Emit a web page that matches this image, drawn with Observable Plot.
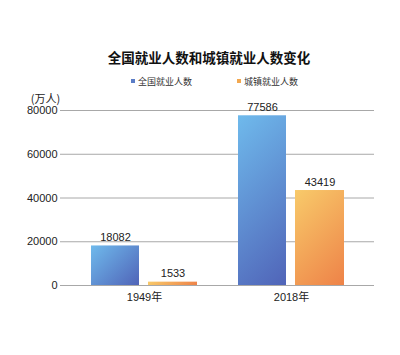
<!DOCTYPE html>
<html>
<head>
<meta charset="utf-8">
<script src="https://cdn.jsdelivr.net/npm/d3@7"></script>
<script src="https://cdn.jsdelivr.net/npm/@observablehq/plot@0.6"></script>
<style>
  html, body { margin: 0; padding: 0; background: #fff; }
  #wrap { position: relative; width: 400px; height: 355px; overflow: hidden; font-family: "Liberation Sans", "Noto Sans CJK SC", sans-serif; }
  #title { position: absolute; left: 0; width: 418px; top: 49px; text-align: center; font-family: "Noto Sans CJK SC", sans-serif; font-weight: bold; font-size: 13.5px; line-height: 16px; color: #111; }
  .leg { position: absolute; top: 75px; font-family: "Noto Sans CJK SC", sans-serif; font-size: 9px; line-height: 13px; color: #333; white-space: nowrap; }
  .leg i { display: inline-block; width: 4px; height: 4px; margin-right: 3px; vertical-align: 2px; }
  #chart { position: absolute; left: 0; top: 0; }
</style>
</head>
<body>
<div id="wrap">
  <div id="chart"></div>
  <div id="title">全国就业人数和城镇就业人数变化</div>
  <div class="leg" style="left:131px"><i style="background:#5b7dc6"></i>全国就业人数</div>
  <div class="leg" style="left:237px"><i style="background:#f2a850"></i>城镇就业人数</div>
</div>
<script>
const years = ["1949年", "2018年"];
const seriesNames = ["全国就业人数", "城镇就业人数"];
const totalValues = [18082, 77586];
const urbanValues = [1533, 43419];
const yTicks = [0, 20000, 40000, 60000, 80000];
const unitLabel = "(万人)";

const totalData = years.map((y, i) => ({year: y, series: seriesNames[0], value: totalValues[i]}));
const urbanData = years.map((y, i) => ({year: y, series: seriesNames[1], value: urbanValues[i]}));

const plot = Plot.plot({
  width: 400,
  height: 355,
  marginTop: 110,
  marginBottom: 70,
  marginLeft: 60,
  marginRight: 26,
  style: {fontFamily: "'Liberation Sans', 'Noto Sans CJK SC', sans-serif", fontSize: "11px", color: "#222", background: "transparent"},
  x: {domain: years, paddingInner: 0.279, paddingOuter: 0.2075, label: null, tickSize: 0, tickPadding: 8},
  y: {domain: [0, 80000], ticks: yTicks, label: null, tickSize: 0, tickPadding: 3, tickFormat: d => String(d)},
  marks: [
    Plot.gridY(yTicks, {stroke: "#a8a8a8", strokeOpacity: 1, strokeWidth: 1}),
    Plot.barY(totalData, {x: "year", y: "value", fill: "url(#gradBlue)", insetRight: 58, insetLeft: 0, className: "bar-blue"}),
    Plot.barY(urbanData, {x: "year", y: "value", fill: "url(#gradOrange)", insetLeft: 57, insetRight: 0, className: "bar-orange"}),
    Plot.ruleY([0], {stroke: "#a8a8a8"}),
    Plot.text(totalData, {x: "year", y: "value", text: d => String(d.value), dx: -29, dy: -5, lineAnchor: "bottom", fill: "#222", fontSize: 11}),
    Plot.text(urbanData, {x: "year", y: "value", text: d => String(d.value), dx: 28.5, dy: -5, lineAnchor: "bottom", fill: "#222", fontSize: 11}),
    Plot.text([unitLabel], {frameAnchor: "top-left", text: d => d, dx: -15, dy: -8, lineAnchor: "bottom", textAnchor: "middle", fill: "#222", fontSize: 11, fontFamily: "'Noto Sans CJK SC', sans-serif"})
  ]
});

const svg = d3.select(plot);
const defs = svg.insert("defs", ":first-child");
function grad(id, c1, c2, x1, y1, x2, y2) {
  const g = defs.append("linearGradient").attr("id", id)
    .attr("gradientUnits", "userSpaceOnUse")
    .attr("x1", x1).attr("y1", y1).attr("x2", x2).attr("y2", y2);
  g.append("stop").attr("offset", "0%").attr("stop-color", c1);
  g.append("stop").attr("offset", "100%").attr("stop-color", c2);
}
function applyGrad(cls, c1, c2) {
  svg.selectAll("g." + cls + " rect, ." + cls + " rect").each(function(d, i) {
    const r = d3.select(this);
    const x = +r.attr("x"), y = +r.attr("y"), w = +r.attr("width"), h = +r.attr("height");
    const s = (w + h) / 2;
    const id = cls + "-g" + i;
    grad(id, c1, c2, x, y, x + s, y + s);
    r.attr("fill", "url(#" + id + ")");
  });
}
applyGrad("bar-blue", "#6fbaec", "#5064b8");
applyGrad("bar-orange", "#f8ca6a", "#ee8248");
document.getElementById("chart").appendChild(plot);
</script>
</body>
</html>
